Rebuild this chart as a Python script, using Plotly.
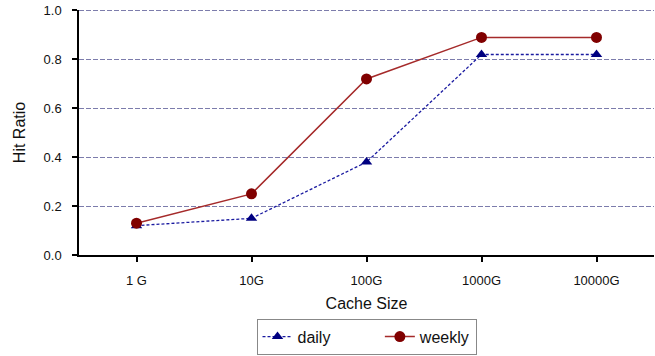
import plotly.graph_objects as go

# Cache hit ratio by cache size
cache_sizes = ["1 G", "10G", "100G", "1000G", "10000G"]
daily_hits = [0.12, 0.15, 0.38, 0.82, 0.82]
weekly_hits = [0.13, 0.25, 0.72, 0.89, 0.89]
y_ticks = [0.0, 0.2, 0.4, 0.6, 0.8, 1.0]

fig = go.Figure()
fig.add_trace(go.Scatter(
    x=cache_sizes, y=daily_hits, name="daily" + "\u00a0" * 10,
    mode="lines+markers",
    line=dict(color="#1a1aa0", width=1.3, dash="3px,2px"),
    marker=dict(symbol="triangle-up", size=10, color="#000080"),
))
fig.add_trace(go.Scatter(
    x=cache_sizes, y=weekly_hits, name="weekly", mode="lines+markers",
    line=dict(color="#a52a2a", width=1.5),
    marker=dict(symbol="circle", size=11, color="#800000"),
))

# dashed gridline along the top edge of the plot area
fig.add_hline(y=y_ticks[-1], line=dict(color="#7c7cac", width=1, dash="5px,2px"),
              layer="below")

font_family = "Liberation Sans, Arial, sans-serif"
fig.update_layout(
    width=655, height=356,
    margin=dict(l=79, r=1, t=10, b=98),
    paper_bgcolor="white", plot_bgcolor="white",
    font=dict(family=font_family, size=13, color="#111"),
    showlegend=True,
    legend=dict(
        orientation="h", x=0.5, xanchor="center", y=-0.26, yanchor="top",
        bordercolor="#888", borderwidth=1, font=dict(size=16),
    ),
    xaxis=dict(
        title=dict(text="Cache Size", font=dict(size=16), standoff=10),
        range=[-0.5, 4.5], showgrid=False, showline=True, linecolor="black",
        linewidth=1.5, ticks="outside", ticklen=5, tickcolor="black",
        tickwidth=1.5, ticklabelstandoff=8, zeroline=False,
    ),
    yaxis=dict(
        title=dict(text="Hit Ratio", font=dict(size=16), standoff=14),
        range=[0, 1.002], tickvals=y_ticks, tickformat=".1f",
        showgrid=True, gridcolor="#7c7cac", griddash="5px,2px", gridwidth=1,
        showline=True, linecolor="black", linewidth=1.5,
        ticks="outside", ticklen=5, tickcolor="black", tickwidth=1.5,
        ticklabelstandoff=8, zeroline=False,
    ),
)

fig.write_html("out.html")
